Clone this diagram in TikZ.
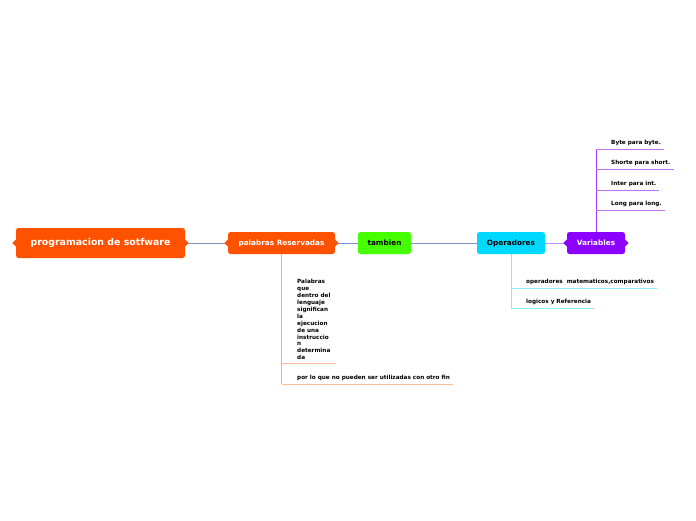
\documentclass[tikz,border=0pt]{standalone}
\usepackage{fontspec}
\setmainfont{DejaVu Sans}
\usepackage{tikz}
\usetikzlibrary{positioning}
\definecolor{orange1}{RGB}{255,82,0}
\definecolor{green1}{RGB}{70,255,0}
\definecolor{cyan1}{RGB}{0,216,255}
\definecolor{purple1}{RGB}{140,0,255}
\definecolor{link1}{RGB}{130,146,186}
\definecolor{link2}{RGB}{130,140,230}
\definecolor{link3}{RGB}{200,140,255}

\tikzset{
  topic/.style={rounded corners=2.5pt, minimum height=22pt, inner sep=0pt,
    font=\fontsize{7.3}{9}\selectfont\bfseries},
  leaf/.style={anchor=south west, inner xsep=3pt, inner ysep=3pt,
    text height=4pt, text depth=1pt, font=\fontsize{5.7}{7}\selectfont\bfseries},
  leafblock/.style={anchor=south west, inner xsep=3pt, inner ysep=3pt,
    align=left, font=\fontsize{5.7}{6.9}\selectfont\bfseries},
  link/.style={line width=0.9pt}
}

\begin{document}
\begin{tikzpicture}[x=1pt, y=-1pt]
  \useasboundingbox (0,0) rectangle (696,520);

  % main row
  \node[topic, fill=orange1, text=white, minimum width=169pt, minimum height=30pt,
    font=\fontsize{9.4}{11}\selectfont\bfseries] (root) at (100.5,243) {programacion de sotfware};
  \node[topic, fill=orange1, text=white, minimum width=107pt] (pal) at (281.5,243) {palabras Reservadas};
  \node[topic, fill=green1, minimum width=53pt] (tam) at (384.5,243) {tambien};
  \node[topic, fill=cyan1, minimum width=68pt] (ope) at (511,243) {Operadores};
  \node[topic, fill=purple1, text=white, minimum width=58pt] (var) at (596,243) {Variables};

  \draw[link, link1] (root) -- (pal);
  \draw[link, link2] (pal) -- (tam);
  \draw[link, link1!60!link2] (tam) -- (ope);
  \draw[link, link3] (ope) -- (var);

  % notches
  \foreach \n in {root, pal} {
    \fill[orange1] (\n.west) ++(0,-3.5) -- ++(-3.5,3.5) -- ++(3.5,3.5) -- cycle;
    \fill[orange1] (\n.east) ++(0,-3.5) -- ++(3.5,3.5) -- ++(-3.5,3.5) -- cycle;
  }
  \fill[purple1] (var.west) ++(0,-3.5) -- ++(-3.5,3.5) -- ++(3.5,3.5) -- cycle;
  \fill[purple1] (var.east) ++(0,-3.5) -- ++(3.5,3.5) -- ++(-3.5,3.5) -- cycle;

  % Variables
  \node[leaf] (v1) at (608,149) {Byte para byte.};
  \node[leaf] (v2) at (608,169) {Shorte para short.};
  \node[leaf] (v3) at (608,190) {Inter para int.};
  \node[leaf] (v4) at (608,210) {Long para long.};
  \draw[purple1!80, line width=0.8pt] (var.north) -- (var.north |- v1.south);
  \foreach \n in {v1, v2, v3, v4}
    \draw[purple1!55, line width=0.6pt] (var.north |- \n.south) -- (\n.south east);

  % palabras Reservadas
  \node[leafblock, text width=36pt] (p1) at (294,363)
    {Palabras\\que\\dentro del\\lenguaje\\significan\\la\\ejecucion\\de una\\instruccio\\n\\determina\\da};
  \node[leaf] (p2) at (294,384) {por lo que no pueden ser utilizadas con otro fin};
  \draw[orange1!50, line width=0.8pt] (pal.south) -- (pal.south |- p2.south);
  \foreach \n in {p1, p2}
    \draw[orange1!40, line width=0.6pt] (pal.south |- \n.south) -- (\n.south east);

  % Operadores
  \node[leaf] (o1) at (523,288) {operadores\ \ matematicos,comparativos};
  \node[leaf] (o2) at (523,308) {logicos y Referencia};
  \draw[cyan1!50, line width=0.8pt] (ope.south) -- (ope.south |- o2.south);
  \foreach \n in {o1, o2}
    \draw[cyan1!45, line width=0.6pt] (ope.south |- \n.south) -- (\n.south east);
\end{tikzpicture}
\end{document}
